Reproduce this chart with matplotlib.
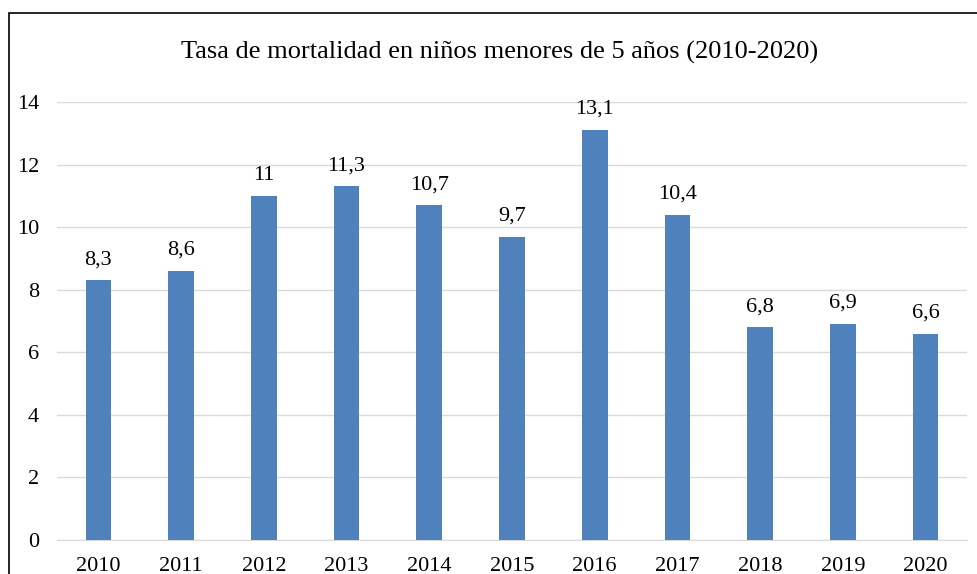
import matplotlib.pyplot as plt
from matplotlib.patches import Rectangle

years = ["2010", "2011", "2012", "2013", "2014", "2015", "2016", "2017", "2018", "2019", "2020"]
rates = [8.3, 8.6, 11, 11.3, 10.7, 9.7, 13.1, 10.4, 6.8, 6.9, 6.6]
labels = ["8,3", "8,6", "11", "11,3", "10,7", "9,7", "13,1", "10,4", "6,8", "6,9", "6,6"]
yticks = [0, 2, 4, 6, 8, 10, 12, 14]

plt.rcParams["font.family"] = ["Liberation Serif", "DejaVu Serif"]

W, H = 977, 574
fig = plt.figure(figsize=(W / 100, H / 100), dpi=100)
ax = fig.add_axes([57 / W, 1 - 540 / H, 910 / W, 438 / H])

x = range(len(years))
ax.bar(x, rates, width=0.31, color="#4F81BD", zorder=3)

for xi, v, lab in zip(x, rates, labels):
    ax.annotate(lab, (xi, v), xytext=(0, 8), textcoords="offset points",
                ha="center", va="bottom", fontsize=16)

ax.set_xlim(-0.5, len(years) - 0.5)
ax.set_ylim(0, 14)
ax.set_yticks(yticks)
ax.set_xticks(list(x))
ax.set_xticklabels(years)
ax.tick_params(axis="both", length=0, labelsize=16)
ax.tick_params(axis="y", pad=13)
ax.tick_params(axis="x", pad=12)
ax.grid(axis="y", color="#D9D9D9", linewidth=1, zorder=0)
for s in ["top", "right", "left"]:
    ax.spines[s].set_visible(False)
ax.spines["bottom"].set_color("#D9D9D9")

fig.text(500 / W, 1 - 52 / H, "Tasa de mortalidad en niños menores de 5 años (2010-2020)",
         ha="center", va="center", fontsize=19)

fig.patches.append(Rectangle((9 / W, -0.2), 1.2, 1.2 + (1 - 13 / H) - 1, transform=fig.transFigure,
                             fill=False, edgecolor="black", linewidth=1.2))

fig.savefig("out.png", dpi=100)
